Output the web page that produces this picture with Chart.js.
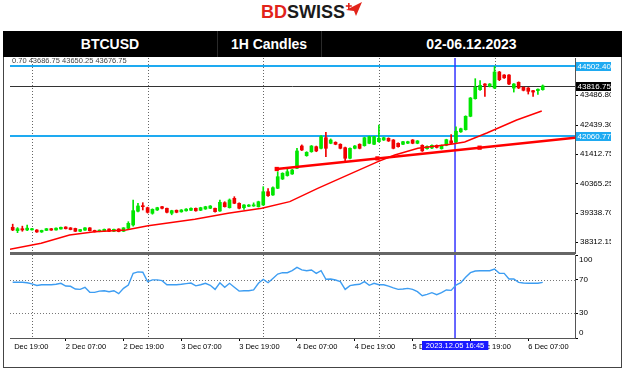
<!DOCTYPE html>
<html>
<head>
<meta charset="utf-8">
<script src="https://cdn.jsdelivr.net/npm/chart.js@4.4.1/dist/chart.umd.min.js"></script>
<style>
  body { margin:0; width:624px; height:372px; background:#fff; position:relative; overflow:hidden;
         font-family:"Liberation Sans", Arial, sans-serif; }
  #logo { position:absolute; left:0; top:3px; width:624px; text-align:center; font-size:18px;
          line-height:18px; font-weight:bold; white-space:nowrap; }
  #logo .bd { color:#e2231a; }
  #logo .sw { color:#1b1b1b; }
  #logo svg { vertical-align:top; margin-top:-2px; }
  #hdr { position:absolute; left:3px; top:31px; width:619px; height:26px; background:#000; color:#fff;
         font-size:14px; font-weight:bold; z-index:3; }
  #hdr .cell { position:absolute; top:0; height:26px; line-height:26px; text-align:center; }
  #hdr .div { position:absolute; top:0; width:1px; height:26px; background:#2a2a2a; }
  canvas { position:absolute; left:0; }
  #main { top:54px; }
  #rsi { top:254px; }
  #sep { position:absolute; left:10px; top:252px; width:565px; height:3px; background:#666; z-index:2; }
  #frame { position:absolute; left:3px; top:57px; width:617px; height:310px; border-left:1px solid #444;
           border-right:1px solid #444; border-bottom:1px solid #444; z-index:2; pointer-events:none; }
</style>
</head>
<body>
<div id="logo"><span class="bd">BD</span><span class="sw">SWISS</span><svg width="18" height="16" viewBox="0 0 18 16"><polygon points="1,9 17,1 11,15 9,10" fill="#e2231a"/><rect x="3" y="2" width="1.6" height="6" fill="#e2231a"/><rect x="0.8" y="4.2" width="6" height="1.6" fill="#e2231a"/></svg></div>
<div id="hdr">
  <div class="cell" style="left:0;width:214px">BTCUSD</div>
  <div class="div" style="left:214px"></div>
  <div class="cell" style="left:214px;width:104px">1H Candles</div>
  <div class="div" style="left:318px"></div>
  <div class="cell" style="left:318px;width:301px">02-06.12.2023</div>
</div>
<canvas id="main" width="624" height="203"></canvas>
<div id="sep"></div>
<canvas id="rsi" width="624" height="106"></canvas>
<div id="frame"></div>

<script>
// ---- hourly candles, 1 Dec 20:00 .. 6 Dec 10:00 ----
const candleOpen = [
  38840,38720,38790,38745,38750,38745,38675,38730,38790,38745,
  38780,38850,38820,38800,38700,38740,38820,38730,38690,38700,
  38780,38700,38780,38700,38805,38921,39405,39600,39530,39332,
  39449,39565,39509,39333,39439,39384,39420,39439,39509,39439,
  39484,39509,39509,39414,39706,39530,39860,39685,39530,39580,
  39590,39565,39625,40093,39977,40213,40540,40660,40717,40917,
  41702,41360,41500,41677,41620,41994,41797,41832,41762,41642,
  41269,41620,41762,41712,41797,41762,41853,41913,41973,41913,
  41797,41762,41800,41913,41797,41726,41606,41630,41726,41606,
  41726,41884,41842,42200,42276,42747,43367,43684,43884,43803,
  43744,44306,44200,44200,43740,43943,43768,43744,43650,43650,
  43684];
const candleHigh = [
  38950,38830,38880,38920,38800,38760,38740,38800,38800,38820,
  38850,38860,38830,38810,38770,38830,38830,38740,38750,38780,
  38790,38780,38790,38830,39037,39801,39685,39706,39550,39490,
  39545,39580,39520,39440,39450,39465,39495,39525,39520,39545,
  39580,39605,39520,39801,39740,39838,39917,39700,39640,39640,
  39700,39760,40269,40200,40260,40797,40760,40917,40880,41620,
  41740,41500,41720,41700,42064,42184,41950,41850,41780,41660,
  41640,41720,41780,42010,42050,42040,42441,42010,41990,41930,
  41815,41870,41870,41930,41895,41745,41705,41740,41740,41740,
  41940,42099,42380,42330,42765,43410,44071,44000,43900,43900,
  44502,44330,44215,44215,43900,43960,43780,43760,43665,43715,
  43850];
const candleLow = [
  38720,38650,38700,38720,38740,38660,38660,38720,38730,38740,
  38770,38780,38750,38690,38690,38730,38710,38670,38680,38690,
  38690,38690,38680,38690,38790,38880,39380,39449,39340,39300,
  39430,39490,39350,39280,39350,39370,39405,39425,39405,39425,
  39470,39495,39375,39400,39550,39515,39670,39490,39470,39565,
  39575,39550,39610,39930,39960,40200,40520,40640,40700,40900,
  41540,41340,41480,41500,41600,41325,41780,41745,41600,41149,
  41250,41600,41600,41695,41780,41745,41835,41895,41860,41600,
  41660,41745,41785,41780,41780,41510,41590,41610,41630,41590,
  41710,41780,41820,42180,42260,42730,43350,43660,43450,43780,
  43720,44000,44080,43860,43600,43720,43640,43530,43450,43520,
  43665];
const candleClose = [
  38745,38790,38745,38810,38790,38675,38730,38790,38740,38810,
  38840,38790,38760,38700,38760,38820,38720,38680,38740,38770,
  38700,38770,38690,38820,38980,39425,39590,39565,39368,39473,
  39530,39509,39368,39425,39368,39449,39480,39509,39420,39530,
  39565,39590,39390,39720,39565,39801,39685,39509,39625,39625,
  39630,39740,40093,39952,40234,40621,40741,40797,40857,41526,
  41561,41480,41700,41526,42029,41620,41913,41762,41620,41269,
  41620,41702,41620,41994,42029,42029,41973,41994,41878,41620,
  41677,41853,41853,41797,41880,41530,41690,41726,41650,41726,
  41924,41797,42220,42310,42747,43391,43768,43838,43838,43884,
  44306,44036,44100,43884,43884,43744,43662,43627,43600,43700,
  43817];

// RSI, one value per candle
const rsiValues = [
  67.1,67.1,67.1,66.6,65.2,63.3,64.2,64.2,64.2,64.7,
  65.9,62.6,62.3,59.0,58.6,61.1,55.0,55.0,56.5,57.0,
  55.8,57.0,53.4,59.8,63.8,77.9,79.7,79.2,67.9,70.0,
  70.0,69.1,64.2,64.2,64.2,64.7,65.5,66.2,62.8,64.2,
  65.9,63.5,58.6,66.6,61.1,65.9,61.1,56.5,57.0,57.0,
  57.9,65.9,70.7,66.6,71.8,77.1,78.7,78.7,81.1,85.1,
  82.0,81.1,82.0,77.9,81.1,70.7,71.0,69.9,67.9,58.6,
  63.1,64.2,64.7,67.9,63.5,65.9,64.2,64.2,62.6,60.3,
  58.6,59.0,59.8,58.6,55.8,51.0,52.6,54.6,52.2,54.6,
  57.9,57.4,63.8,66.6,73.1,78.7,80.7,81.1,81.1,81.1,
  83.1,77.9,77.9,71.1,71.1,67.0,66.2,65.9,65.9,65.9,
  67.0];

// moving average (thin red) read at candle positions
const maIdx    = [-0.6, 5.9, 11.8, 17, 23.5, 28.1, 37.8, 44.7, 51.7, 57.5, 63.3, 70.3, 75.8, 79.3, 84.1, 91.3, 93.8, 98.4, 104.6, 109.8];
const maValues = [38066,38277,38569,38685,38745,38896,39122,39333,39509,39741,40213,40741,41149,41385,41621,41772,41843,42159,42617,42934];

// slow line (thick red) with square markers
const trendIdx    = [54.8, 75.7, 96.9, 116.7];
const trendValues = [40892, 41265, 41642, 41994];

const priceTicks = [43486.80, 42439.30, 41412.75, 40365.25, 39338.70, 38312.15];
const levelHigh = 44502.40, levelLast = 43816.75, levelSupport = 42060.77;

const timeTickIdx = [-1, 11, 23, 35, 47, 59, 71, 83, 95, 107];
const timeTickLabels = ['1 Dec 19:00','2 Dec 07:00','2 Dec 19:00','3 Dec 07:00','3 Dec 19:00',
                        '4 Dec 07:00','4 Dec 19:00','5 Dec 07:00','5 Dec 19:00','6 Dec 07:00'];
const dayGridIdx = [4, 28, 52, 76, 100];
const cursorIdx = 91.8, cursorLabel = '2023.12.05 16:45';
const rsiTicks = [100, 70, 30, 0], rsiGrid = [70, 30];
const infoLine = '0.70 43686.75 43650.25 43676.75';

const FONT = '"Liberation Sans", Arial, sans-serif';
const UP = '#00e600', DOWN = '#f00000', LEVEL = '#1eaaf1', CURSOR = '#3535ff';
const X_MIN = -0.56, X_MAX = 116.7;

Chart.defaults.font.family = FONT;

function line(ctx, x1, y1, x2, y2, color, w, dash) {
  ctx.save();
  ctx.strokeStyle = color; ctx.lineWidth = w;
  if (dash) ctx.setLineDash(dash);
  ctx.beginPath(); ctx.moveTo(x1, y1); ctx.lineTo(x2, y2); ctx.stroke();
  ctx.restore();
}

function tag(ctx, x, yc, text, bg, size) {
  ctx.save();
  ctx.font = size + 'px ' + FONT;
  const w = ctx.measureText(text).width + 3;
  ctx.fillStyle = bg; ctx.fillRect(x, Math.round(yc) - 4, w, 9);
  ctx.fillStyle = '#fff'; ctx.textBaseline = 'middle';
  ctx.fillText(text, x + 1.5, Math.round(yc) + 0.5);
  ctx.restore();
}

const noPad = s => { s.paddingTop = 0; s.paddingBottom = 0; s.paddingLeft = 0; s.paddingRight = 0; };

const mainDecor = {
  id: 'mainDecor',
  beforeDatasetsDraw(chart) {
    const {ctx, chartArea: a, scales: {x, y}} = chart;
    ctx.save();
    ctx.font = '7.5px ' + FONT; ctx.fillStyle = '#444';
    ctx.fillText(infoLine, a.left + 2, a.top + 5);
    ctx.restore();
    dayGridIdx.forEach(i => {
      const px = Math.round(x.getPixelForValue(i)) + 0.5;
      line(ctx, px, a.top, px, a.bottom, '#666', 1, [1, 2]);
    });
    const yl = Math.round(y.getPixelForValue(levelLast)) + 0.5;
    line(ctx, a.left, yl, a.right, yl, '#333', 1);
    [levelHigh, levelSupport].forEach(v => {
      const py = Math.round(y.getPixelForValue(v));
      line(ctx, a.left, py, a.right, py, LEVEL, 2);
    });
    const cx = x.getPixelForValue(cursorIdx);
    line(ctx, cx, a.top, cx, a.bottom, CURSOR, 1.5);
  },
  afterDraw(chart) {
    const {ctx, chartArea: a, scales: {y}} = chart;
    tag(ctx, a.right + 1, y.getPixelForValue(levelHigh), levelHigh.toFixed(2), LEVEL, 8);
    tag(ctx, a.right + 1, y.getPixelForValue(levelLast), levelLast.toFixed(2), '#000', 8);
    tag(ctx, a.right + 1, y.getPixelForValue(levelSupport), levelSupport.toFixed(2), LEVEL, 8);
    // price labels are cut where the window ends
    ctx.fillStyle = '#fff';
    ctx.fillRect(a.right + 36, 0, 624 - a.right - 36, chart.height);
  }
};

const rsiDecor = {
  id: 'rsiDecor',
  beforeDatasetsDraw(chart) {
    const {ctx, chartArea: a, scales: {x, y}} = chart;
    rsiGrid.forEach(v => {
      const py = Math.round(y.getPixelForValue(v)) + 0.5;
      line(ctx, a.left, py, a.right, py, '#777', 1, [1, 2]);
    });
    dayGridIdx.forEach(i => {
      const px = Math.round(x.getPixelForValue(i)) + 0.5;
      line(ctx, px, a.top, px, a.bottom, '#666', 1, [1, 2]);
    });
    const cx = x.getPixelForValue(cursorIdx);
    line(ctx, cx, a.top, cx, a.bottom, CURSOR, 1.5);
  },
  afterDraw(chart) {
    const {ctx, chartArea: a, scales: {x, y}} = chart;
    ctx.save();
    ctx.font = '8px ' + FONT; ctx.fillStyle = '#000'; ctx.textBaseline = 'middle';
    rsiTicks.forEach(v => {
      const py = Math.min(Math.max(y.getPixelForValue(v), a.top + 5), a.bottom - 5);
      ctx.fillText(String(v), a.right + 4, py);
    });
    // the first time label is cut at the panel edge
    ctx.fillStyle = '#fff';
    ctx.fillRect(4, a.bottom + 1, a.left + 2.5 - 4, 16);
    // cursor time tag
    ctx.font = '7.5px ' + FONT;
    const cx = x.getPixelForValue(cursorIdx);
    const w = ctx.measureText(cursorLabel).width + 8;
    ctx.fillStyle = '#1a1aff';
    ctx.fillRect(Math.round(cx - w / 2), a.bottom + 3, w, 9);
    ctx.fillStyle = '#fff'; ctx.textAlign = 'center';
    ctx.fillText(cursorLabel, cx, a.bottom + 8);
    ctx.restore();
  }
};

const candleColors = candleClose.map((c, i) => c >= candleOpen[i] ? UP : DOWN);

new Chart(document.getElementById('main'), {
  type: 'bar',
  data: {
    datasets: [
      { type: 'line', data: maIdx.map((x, i) => ({x, y: maValues[i]})),
        borderColor: '#ff0000', borderWidth: 1.4, pointRadius: 0, order: 0 },
      { type: 'line', data: trendIdx.map((x, i) => ({x, y: trendValues[i]})),
        borderColor: '#ff0000', borderWidth: 2.5, pointStyle: 'rect', pointRadius: [3, 3, 3, 0],
        pointBackgroundColor: '#ff0000', pointBorderWidth: 0, order: 0 },
      { data: candleOpen.map((o, i) => ({x: i, y: [o, candleClose[i]]})),
        backgroundColor: candleColors, barThickness: 3, minBarLength: 1, grouped: false, order: 1 },
      { data: candleLow.map((l, i) => ({x: i, y: [l, candleHigh[i]]})),
        backgroundColor: candleColors, barThickness: 1, grouped: false, order: 2 }
    ]
  },
  options: {
    responsive: false, animation: false, events: [],
    // the price labels reserve 4px above and below the plot
    layout: { padding: { left: 10, top: 4, bottom: 4, right: 0 } },
    plugins: { legend: { display: false }, tooltip: { enabled: false } },
    scales: {
      x: { type: 'linear', display: false, min: X_MIN, max: X_MAX, offset: false, bounds: 'data' },
      y: {
        position: 'right', min: 37935, max: 44799, bounds: 'data',
        afterBuildTicks: s => { s.ticks = priceTicks.map(v => ({value: v})); },
        afterFit: s => { s.width = 49; noPad(s); },
        ticks: { callback: v => v.toFixed(2), font: { size: 8 }, color: '#000', crossAlign: 'near', padding: 2 },
        grid: { drawOnChartArea: false, tickLength: 3, color: '#000' },
        border: { color: '#555' }
      }
    }
  },
  plugins: [mainDecor]
});

new Chart(document.getElementById('rsi'), {
  type: 'line',
  data: {
    datasets: [{ data: rsiValues.map((v, i) => ({x: i, y: v})),
                 borderColor: '#3d9df2', borderWidth: 1.4, pointRadius: 0 }]
  },
  options: {
    responsive: false, animation: false, events: [],
    layout: { padding: { left: 10, top: 1, bottom: 0, right: 0 } },
    plugins: { legend: { display: false }, tooltip: { enabled: false } },
    scales: {
      x: {
        type: 'linear', min: X_MIN, max: X_MAX, offset: false, bounds: 'data',
        afterBuildTicks: s => { s.ticks = timeTickIdx.map(v => ({value: v})); },
        afterFit: s => { s.height = 22; noPad(s); },
        ticks: { callback: v => timeTickLabels[timeTickIdx.indexOf(v)], align: 'start', autoSkip: false,
                 maxRotation: 0, font: { size: 7.5 }, color: '#000', padding: 1 },
        grid: { drawOnChartArea: false, tickLength: 3, color: '#000' },
        border: { color: '#555' }
      },
      y: {
        position: 'right', min: 0, max: 100, bounds: 'data',
        afterBuildTicks: s => { s.ticks = rsiTicks.map(v => ({value: v})); },
        afterFit: s => { s.width = 49; noPad(s); },
        ticks: { display: false },
        grid: { drawOnChartArea: false, tickLength: 3, color: '#000' },
        border: { color: '#555' }
      }
    }
  },
  plugins: [rsiDecor]
});
</script>
</body>
</html>
